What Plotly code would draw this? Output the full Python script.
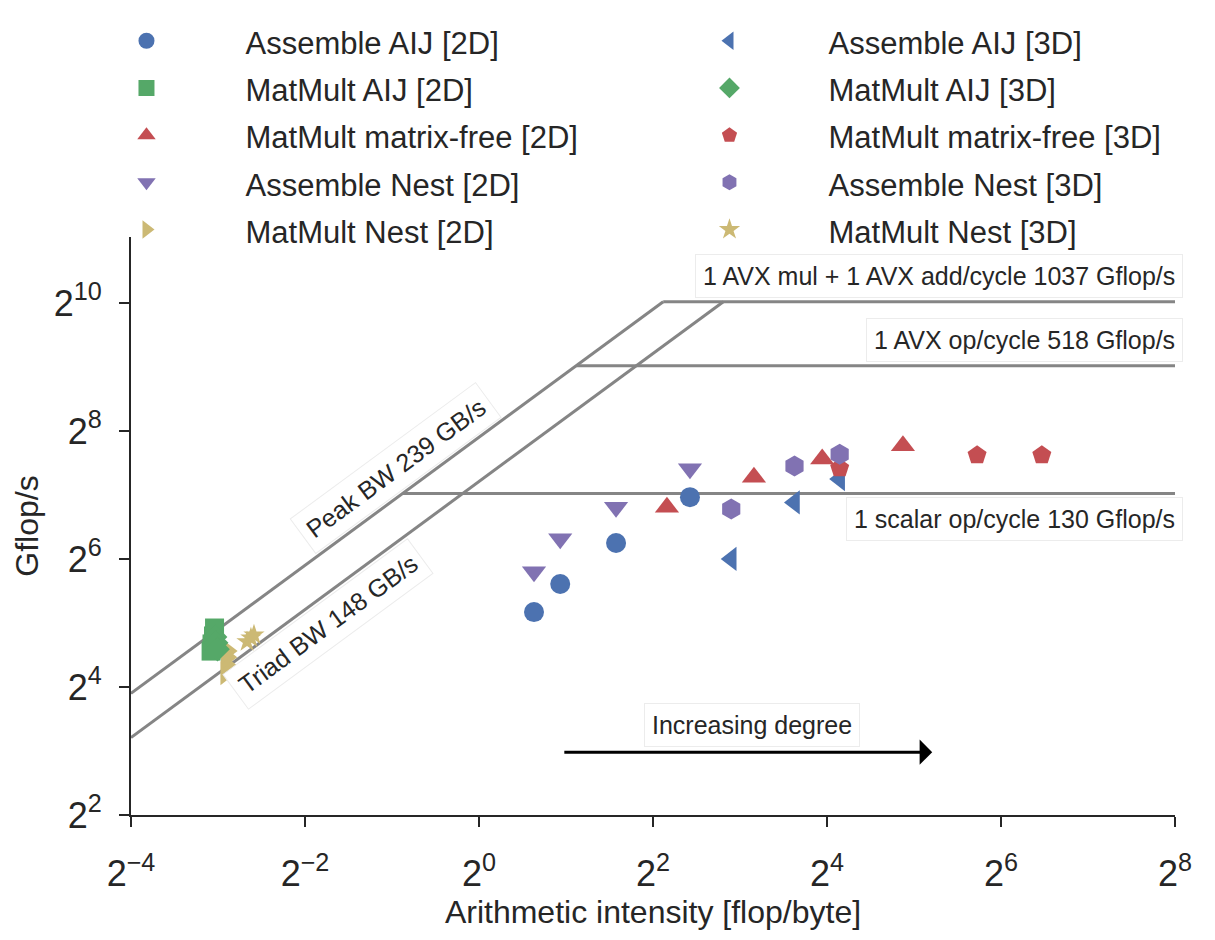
import math
import plotly.graph_objects as go

# ---------------- data (flop/byte, Gflop/s) ----------------
asm_2d_x = [1.55, 1.91, 2.98, 5.37]
asm_aij_2d_y = [36.0, 48.8, 76.1, 125.0]
asm_nest_2d_y = [55.7, 79.7, 112.0, 170.0]

mf_2d_x = [4.47, 8.94, 15.4, 29.3]
mf_2d_y = [112.0, 155.0, 189.0, 218.0]

asm_3d_x = [7.46, 12.35, 17.7]
asm_aij_3d_y = [64.0, 118.0, 152.0]
asm_nest_3d_y = [110.0, 175.0, 199.0]

mf_3d_x = [17.7, 52.9, 88.6]
mf_3d_y = [171.0, 197.0, 197.0]

mm_aij_2d_x = [0.1216, 0.1206, 0.1192, 0.1183]
mm_aij_2d_y = [30.3, 27.8, 25.5, 23.6]
mm_aij_3d_x = [0.1221, 0.1231, 0.1245]
mm_aij_3d_y = [27.5, 25.8, 24.1]

mm_nest_2d_x = [0.1329, 0.1334, 0.1340, 0.1344]
mm_nest_2d_y = [18.6, 20.3, 22.1, 23.6]
mm_nest_3d_x = [0.1575, 0.1625, 0.1665]
mm_nest_3d_y = [26.1, 27.2, 28.1]

# roofline parameters
bandwidths = [239.0, 148.0]
bandwidth_labels = ["Peak BW 239 GB/s", "Triad BW 148 GB/s"]
peaks = [1037.0, 518.0, 130.0]
peak_labels = ["1 AVX mul + 1 AVX add/cycle 1037 Gflop/s",
               "1 AVX op/cycle 518 Gflop/s",
               "1 scalar op/cycle 130 Gflop/s"]

x_min, x_max = 2.0 ** -4, 2.0 ** 8
tick_exps_x = [-4, -2, 0, 2, 4, 6, 8]
tick_exps_y = [2, 4, 6, 8, 10]

# ---------------- styling ----------------
C_BLUE = "#4C72B0"
C_GREEN = "#55A868"
C_RED = "#C44E52"
C_PURPLE = "#8172B2"
C_YELLOW = "#CCB974"
TXT = "#262626"
ROOF = "#858585"
FONT = "Liberation Sans, Arial, Helvetica, sans-serif"

L = math.log10

fig = go.Figure()

# roofline lines
peak_max = max(peaks)
bw_peak = max(bandwidths)
for bw in bandwidths:
    fig.add_trace(go.Scatter(x=[x_min, peak_max / bw], y=[bw * x_min, peak_max],
                             mode="lines", line=dict(color=ROOF, width=3),
                             showlegend=False, hoverinfo="skip"))
for p in peaks:
    fig.add_trace(go.Scatter(x=[p / bw_peak, x_max], y=[p, p],
                             mode="lines", line=dict(color=ROOF, width=3),
                             showlegend=False, hoverinfo="skip"))

series = [
    # name, x, y, color, symbol, size, legendrank
    ("Assemble AIJ [2D]", asm_2d_x, asm_aij_2d_y, C_BLUE, "circle", 20, 1),
    ("MatMult AIJ [2D]", mm_aij_2d_x, mm_aij_2d_y, C_GREEN, "square", 19, 3),
    ("MatMult matrix-free [2D]", mf_2d_x, mf_2d_y, C_RED, "triangle-up", 21, 5),
    ("Assemble Nest [2D]", asm_2d_x, asm_nest_2d_y, C_PURPLE, "triangle-down", 21, 7),
    ("MatMult Nest [2D]", mm_nest_2d_x, mm_nest_2d_y, C_YELLOW, "triangle-right", 21, 9),
    ("Assemble AIJ [3D]", asm_3d_x, asm_aij_3d_y, C_BLUE, "triangle-left", 21, 2),
    ("MatMult AIJ [3D]", mm_aij_3d_x, mm_aij_3d_y, C_GREEN, "diamond", 19, 4),
    ("MatMult matrix-free [3D]", mf_3d_x, mf_3d_y, C_RED, "pentagon", 20, 6),
    ("Assemble Nest [3D]", asm_3d_x, asm_nest_3d_y, C_PURPLE, "hexagon", 21, 8),
    ("MatMult Nest [3D]", mm_nest_3d_x, mm_nest_3d_y, C_YELLOW, "star", 16, 10),
]
for name, xs, ys, col, sym, size, rank in series:
    fig.add_trace(go.Scatter(x=xs, y=ys, mode="markers",
                             name='<span style="font-size:31px">%s</span>' % name,
                             legendrank=rank,
                             marker=dict(color=col, symbol=sym, size=size,
                                         line=dict(width=0))))

# ---------------- annotations ----------------
ann = []
box = dict(bgcolor="white", bordercolor="#ececec", borderwidth=1, borderpad=7)
label_font = dict(family=FONT, size=25, color=TXT)
# horizontal roof labels (log2 offset of label centre from the roof)
peak_label_offsets = [0.40, 0.40, -0.40]
for p, lab, off in zip(peaks, peak_labels, peak_label_offsets):
    ann.append(dict(x=L(x_max), y=L(p) + off * L(2), xref="x", yref="y",
                    text=lab, showarrow=False, xanchor="right", yanchor="middle",
                    xshift=8, font=label_font, **box))

# diagonal roof labels: (log2 x of centre, log2 offset above/below the line)
angle = -math.degrees(math.atan(64.0 / 87.0))
bw_label_pos = [(-0.957, 0.48), (-1.736, -0.49)]
for bw, lab, (lx, off) in zip(bandwidths, bandwidth_labels, bw_label_pos):
    yv = math.log2(bw) + lx + off
    ann.append(dict(x=lx * L(2), y=yv * L(2), xref="x", yref="y", text=lab,
                    showarrow=False, textangle=angle, xanchor="center",
                    yanchor="middle", font=label_font, **box))

# increasing degree arrow
ann.append(dict(x=L(37.0), y=L(7.9), ax=L(1.95), ay=L(7.9), xref="x", yref="y",
                axref="x", ayref="y", text="", showarrow=True, arrowhead=1,
                arrowsize=1.4, arrowwidth=3, arrowcolor="black"))
ann.append(dict(x=3.138 * L(2), y=3.406 * L(2), xref="x", yref="y",
                text="Increasing degree", showarrow=False, xanchor="center",
                yanchor="middle", font=label_font, **box))

axis_common = dict(type="log", showgrid=False, zeroline=False, showline=True,
                   linecolor=TXT, linewidth=2, ticks="outside", ticklen=10,
                   tickwidth=2, tickcolor=TXT, mirror=False,
                   tickfont=dict(family=FONT, size=36, color=TXT))

fig.update_layout(
    width=1215, height=940,
    margin=dict(l=131, r=40, t=237, b=125),
    paper_bgcolor="white", plot_bgcolor="white",
    font=dict(family=FONT, color=TXT),
    xaxis=dict(range=[L(x_min), L(x_max)],
               tickvals=[2.0 ** k for k in tick_exps_x],
               ticktext=["2<sup>%s</sup>" % str(k).replace("-", "\u2212") for k in tick_exps_x],
               title=dict(text="Arithmetic intensity [flop/byte]",
                          font=dict(family=FONT, size=32, color=TXT), standoff=4),
               ticklabelstandoff=16,
               **axis_common),
    yaxis=dict(range=[L(4.0), 11.03 * L(2)],
               tickvals=[2.0 ** k for k in tick_exps_y],
               ticktext=["2<sup>%d</sup>" % k for k in tick_exps_y],
               title=dict(text="Gflop/s", font=dict(family=FONT, size=32, color=TXT),
                          standoff=6),
               ticklabelstandoff=10,
               **axis_common),
    legend=dict(orientation="h", x=-0.08, y=1.389, xanchor="left", yanchor="top",
                font=dict(family=FONT, size=34, color=TXT),
                itemwidth=188, entrywidth=380, entrywidthmode="pixels",
                bgcolor="rgba(0,0,0,0)", traceorder="normal"),
    annotations=ann,
    showlegend=True,
)

fig.write_html("out.html")
